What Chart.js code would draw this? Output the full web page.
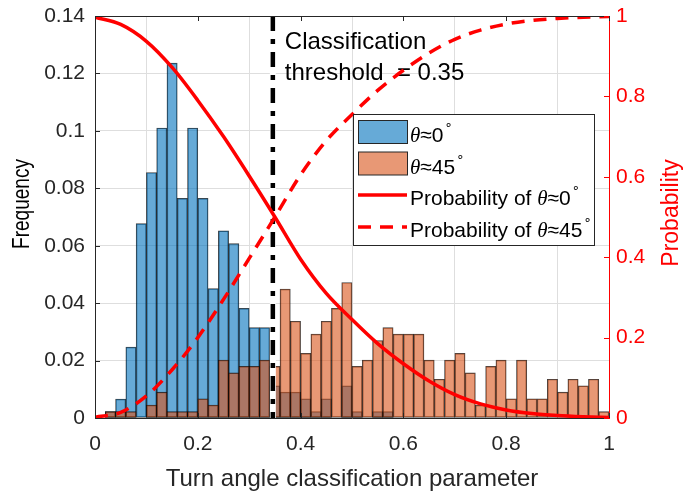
<!DOCTYPE html>
<html>
  <head>
    <script src="https://cdn.jsdelivr.net/npm/chart.js"></script>
  </head>
  <style>
    body {
      margin: 0;
      background: white;
    }
  </style>
  <body>
    <canvas id="histChart" width="684" height="491"></canvas>
    <script>
      // histogram bins (centers, width 0.02)
      const BIN_CENTERS = [0.01, 0.03, 0.05, 0.07, 0.09, 0.11, 0.13, 0.15, 0.17, 0.19,
        0.21, 0.23, 0.25, 0.27, 0.29, 0.31, 0.33, 0.35, 0.37, 0.39,
        0.41, 0.43, 0.45, 0.47, 0.49, 0.51, 0.53, 0.55, 0.57, 0.59,
        0.61, 0.63, 0.65, 0.67, 0.69, 0.71, 0.73, 0.75, 0.77, 0.79,
        0.81, 0.83, 0.85, 0.87, 0.89, 0.91, 0.93, 0.95, 0.97, 0.99];

      const FREQ_THETA0 = [0, 0.0022, 0.0066, 0.0247, 0.0677, 0.0855, 0.101, 0.1236, 0.0765, 0.101,
        0.0765, 0.0451, 0.0652, 0.0607, 0.0382, 0.0315, 0.0315, 0.0112, 0.009, 0.009,
        0.0067, 0.0022, 0.0067, 0, 0.0112, 0.0022, 0, 0.0022, 0.0022, 0,
        0, 0, 0, 0, 0, 0, 0, 0, 0, 0,
        0, 0, 0, 0, 0, 0, 0, 0, 0, 0];

      const FREQ_THETA45 = [0, 0.0022, 0.0022, 0.0022, 0, 0.0045, 0.009, 0.0022, 0.0022, 0.0022,
        0.0067, 0.0045, 0.0202, 0.0157, 0.018, 0.018, 0.0202, 0.018, 0.0449, 0.0337,
        0.0225, 0.0292, 0.0337, 0.0382, 0.0472, 0.018, 0.0202, 0.027, 0.0315, 0.0292,
        0.0292, 0.0292, 0.0202, 0.0135, 0.0202, 0.0225, 0.0157, 0.0045, 0.018, 0.0202,
        0.0067, 0.0202, 0.0067, 0.0067, 0.0135, 0.009, 0.0135, 0.0112, 0.0135, 0.0022];

      // probability curves
      const PROB_X = [0, 0.05, 0.1, 0.15, 0.2, 0.25, 0.3, 0.35, 0.4, 0.45,
        0.5, 0.55, 0.6, 0.65, 0.7, 0.75, 0.8, 0.85, 0.9, 0.95, 1];
      const PROB_THETA0 = [0.997, 0.979, 0.937, 0.872, 0.79, 0.7, 0.602, 0.5, 0.395, 0.31,
        0.245, 0.185, 0.135, 0.092, 0.058, 0.035, 0.02, 0.011, 0.006, 0.003, 0.001];
      const PROB_THETA45 = [0.002, 0.014, 0.055, 0.12, 0.2, 0.295, 0.397, 0.5, 0.605, 0.69,
        0.755, 0.815, 0.865, 0.908, 0.942, 0.965, 0.98, 0.989, 0.994, 0.997, 0.999];

      const THRESHOLD = 0.346;
      const THRESHOLD_TEXT = ['Classification', 'threshold  = 0.35'];

      const X_TICKS = [0, 0.2, 0.4, 0.6, 0.8, 1];
      const Y_TICKS = [0, 0.02, 0.04, 0.06, 0.08, 0.1, 0.12, 0.14];
      const Y1_TICKS = [0, 0.2, 0.4, 0.6, 0.8, 1];

      const FONT = '"Liberation Sans", Arial, sans-serif';
      const DARK = '#262626';
      const RED = '#ff0000';
      const GRID = '#dedede';

      Chart.defaults.font.family = FONT;
      Chart.defaults.color = DARK;

      const fmt = (v) => String(parseFloat(Number(v).toFixed(3)));

      // draws a label like "Probability of θ≈0°" with math-ish glyphs
      const drawRich = (ctx, text, x, y, size) => {
        for (const ch of text) {
          let c = ch, dy = 0;
          ctx.font = size + 'px ' + FONT;
          if (ch === 'θ') {
            ctx.font = 'italic ' + size + 'px "Liberation Serif"';
          } else if (ch === '°') {
            c = '∘';
            ctx.font = Math.round(size * 0.62) + 'px "DejaVu Sans"';
            dy = -13;
            x += 1;
          }
          ctx.fillText(c, x, y + dy);
          x += ctx.measureText(c).width;
        }
      };

      const axesBox = {
        id: 'axesBox',
        afterDatasetsDraw(chart) {
          const { ctx, chartArea: a, scales } = chart;
          ctx.save();
          ctx.lineWidth = 1;
          ctx.strokeStyle = DARK;
          ctx.beginPath();
          ctx.moveTo(a.left, a.top + 0.5);
          ctx.lineTo(a.right, a.top + 0.5);
          X_TICKS.forEach(v => {
            const px = Math.round(scales.x.getPixelForValue(v)) + 0.5;
            ctx.moveTo(px, a.bottom); ctx.lineTo(px, a.bottom - 5);
            ctx.moveTo(px, a.top); ctx.lineTo(px, a.top + 5);
          });
          Y_TICKS.forEach(v => {
            const py = Math.round(scales.y.getPixelForValue(v)) + 0.5;
            ctx.moveTo(a.left, py); ctx.lineTo(a.left + 5, py);
          });
          ctx.stroke();
          ctx.strokeStyle = RED;
          ctx.beginPath();
          Y1_TICKS.forEach(v => {
            const py = Math.round(scales.y1.getPixelForValue(v)) + 0.5;
            ctx.moveTo(a.right, py); ctx.lineTo(a.right - 5, py);
          });
          ctx.stroke();
          ctx.restore();
        },
        afterDraw(chart) {
          // both vertical axis titles read bottom to top
          const { ctx } = chart;
          ctx.save();
          ctx.textAlign = 'center';
          ctx.textBaseline = 'middle';
          ctx.translate(23, 204);
          ctx.rotate(-Math.PI / 2);
          ctx.fillStyle = '#000';
          ctx.font = '23px ' + FONT;
          ctx.fillText('Frequency', 0, 0, 90);
          ctx.restore();

          ctx.save();
          ctx.textAlign = 'center';
          ctx.textBaseline = 'middle';
          ctx.translate(672, 213);
          ctx.rotate(-Math.PI / 2);
          ctx.fillStyle = RED;
          ctx.font = '23px ' + FONT;
          ctx.fillText('Probability', 0, 0);
          ctx.restore();
        }
      };

      const thresholdNote = {
        id: 'thresholdNote',
        beforeDatasetsDraw(chart) {
          const { ctx, chartArea: a, scales } = chart;
          const x0 = scales.x.getPixelForValue(THRESHOLD) + 12;
          ctx.save();
          ctx.fillStyle = '#000';
          ctx.font = '24px ' + FONT;
          ctx.textBaseline = 'alphabetic';
          ctx.fillText(THRESHOLD_TEXT[0], x0, a.top + 33);
          ctx.fillText(THRESHOLD_TEXT[1], x0, a.top + 64);
          ctx.restore();
        }
      };

      const legendBox = {
        id: 'legendBox',
        afterDraw(chart) {
          const ctx = chart.ctx;
          const ds = chart.data.datasets;
          const items = [ds[0], ds[1], ds[4], ds[5]];
          const left = 353.5, top = 114.5, w = 241, h = 131;
          ctx.save();
          ctx.fillStyle = '#fff';
          ctx.fillRect(left, top, w, h);
          ctx.strokeStyle = DARK;
          ctx.lineWidth = 1;
          ctx.strokeRect(left, top, w, h);
          const rowY = [132, 163.5, 195, 227];
          items.forEach((d, i) => {
            const y = rowY[i];
            if (d.type === 'bar') {
              ctx.fillStyle = d.backgroundColor;
              ctx.fillRect(358.5, y - 11.5, 49, 23);
              ctx.strokeStyle = DARK;
              ctx.lineWidth = 1;
              ctx.strokeRect(358.5, y - 11.5, 49, 23);
            } else {
              ctx.strokeStyle = d.borderColor;
              ctx.lineWidth = d.borderWidth;
              ctx.setLineDash(d.borderDash || []);
              ctx.beginPath();
              ctx.moveTo(358, y);
              ctx.lineTo(407, y);
              ctx.stroke();
              ctx.setLineDash([]);
            }
            ctx.fillStyle = '#000';
            ctx.textBaseline = 'alphabetic';
            drawRich(ctx, d.label, 410, y + 10, 21);
          });
          ctx.restore();
        }
      };

      const barData = (values) => BIN_CENTERS.map((x, i) => ({ x: x, y: values[i] }));
      const curveData = (values) => PROB_X.map((x, i) => ({ x: x, y: values[i] }));

      const config = {
        type: 'bar',
        data: {
          datasets: [
            {
              type: 'bar',
              label: 'θ≈0°',
              data: barData(FREQ_THETA0),
              backgroundColor: 'rgba(0, 114, 189, 0.6)',
              borderColor: 'rgba(0, 0, 0, 0.75)',
              borderWidth: 0.8,
              borderSkipped: false,
              grouped: false,
              barPercentage: 1,
              categoryPercentage: 1,
              yAxisID: 'y',
              order: 6
            },
            {
              type: 'bar',
              label: 'θ≈45°',
              data: barData(FREQ_THETA45),
              backgroundColor: 'rgba(217, 83, 25, 0.6)',
              borderColor: 'rgba(0, 0, 0, 0.75)',
              borderWidth: 0.8,
              borderSkipped: false,
              grouped: false,
              barPercentage: 1,
              categoryPercentage: 1,
              yAxisID: 'y',
              order: 5
            },
            {
              type: 'line',
              label: 'threshold backing',
              data: [{ x: THRESHOLD, y: 0.14 }, { x: THRESHOLD, y: 0 }],
              borderColor: '#ffffff',
              borderWidth: 6,
              pointRadius: 0,
              yAxisID: 'y',
              order: 4
            },
            {
              type: 'line',
              label: 'threshold',
              data: [{ x: THRESHOLD, y: 0.14 }, { x: THRESHOLD, y: 0 }],
              borderColor: '#000000',
              borderWidth: 4.5,
              borderDash: [15, 8, 5, 8],
              pointRadius: 0,
              yAxisID: 'y',
              order: 3
            },
            {
              type: 'line',
              label: 'Probability of θ≈0°',
              data: curveData(PROB_THETA0),
              borderColor: RED,
              borderWidth: 3.5,
              pointRadius: 0,
              cubicInterpolationMode: 'monotone',
              yAxisID: 'y1',
              order: 1
            },
            {
              type: 'line',
              label: 'Probability of θ≈45°',
              data: curveData(PROB_THETA45),
              borderColor: RED,
              borderWidth: 3.5,
              borderDash: [13, 9],
              pointRadius: 0,
              cubicInterpolationMode: 'monotone',
              yAxisID: 'y1',
              order: 0
            }
          ]
        },
        options: {
          responsive: false,
          animation: false,
          layout: { padding: { top: 16 } },
          plugins: {
            legend: { display: false },
            tooltip: { enabled: false }
          },
          scales: {
            x: {
              type: 'linear',
              min: 0,
              max: 1,
              offset: false,
              afterBuildTicks: (s) => { s.ticks = X_TICKS.map(v => ({ value: v })); },
              afterFit: (s) => { s.height = 73; s.paddingLeft = 0; s.paddingRight = 0; },
              ticks: { callback: fmt, font: { size: 21 }, padding: 14, color: DARK, maxRotation: 0 },
              grid: { color: GRID, drawTicks: false },
              border: { color: DARK, width: 1 },
              title: { display: true, text: 'Turn angle classification parameter', font: { size: 24 }, color: DARK, padding: { bottom: -3 } }
            },
            y: {
              position: 'left',
              min: 0,
              max: 0.14,
              afterBuildTicks: (s) => { s.ticks = Y_TICKS.map(v => ({ value: v })); },
              afterFit: (s) => { s.width = 95; s.paddingTop = 0; s.paddingBottom = 0; },
              ticks: { callback: fmt, font: { size: 21 }, padding: 10, color: DARK },
              grid: { color: GRID, drawTicks: false },
              border: { color: DARK, width: 1 }
            },
            y1: {
              position: 'right',
              min: 0,
              max: 1,
              afterBuildTicks: (s) => { s.ticks = Y1_TICKS.map(v => ({ value: v })); },
              afterFit: (s) => { s.width = 75; s.paddingTop = 0; s.paddingBottom = 0; },
              ticks: { callback: fmt, font: { size: 21 }, padding: 7, color: RED },
              grid: { display: false, drawTicks: false },
              border: { color: RED, width: 1 }
            }
          }
        },
        plugins: [thresholdNote, axesBox, legendBox]
      };

      const chart = new Chart(document.getElementById('histChart'), config);
    </script>
  </body>
</html>
